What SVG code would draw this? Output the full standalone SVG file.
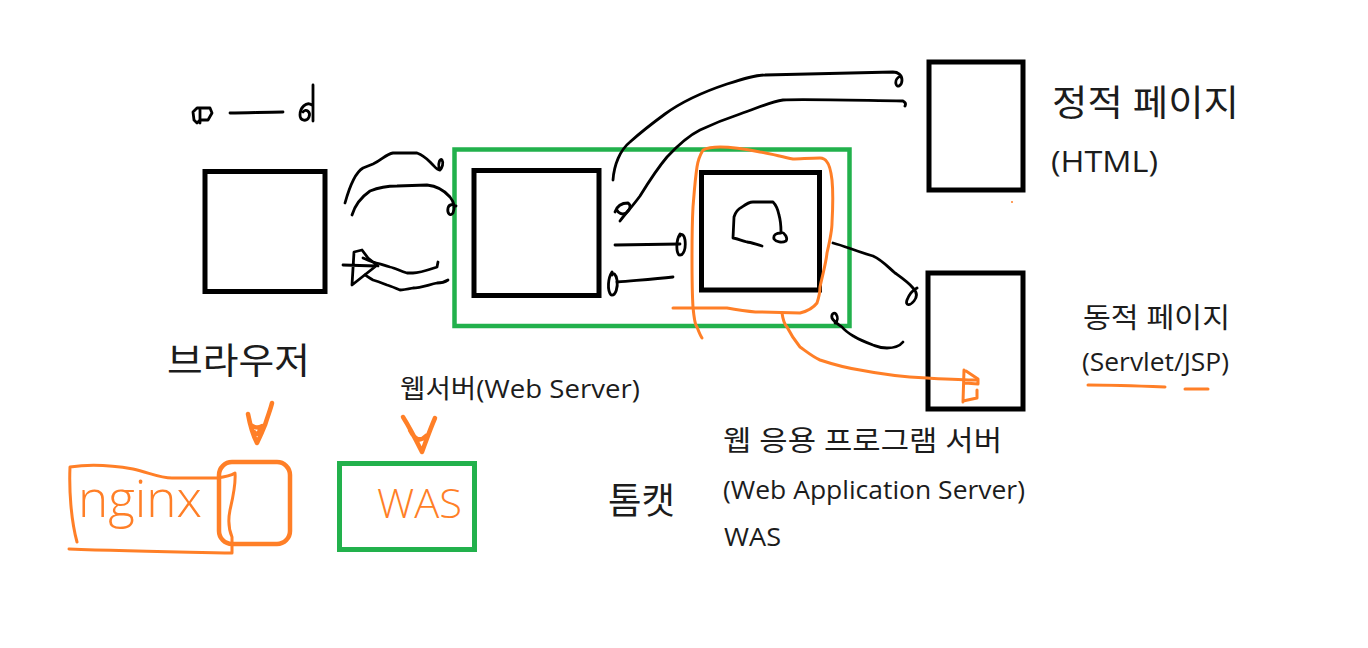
<svg xmlns="http://www.w3.org/2000/svg" width="1368" height="648" viewBox="0 0 1368 648">
<defs>
<style>
.box{fill:none;stroke:#000;stroke-width:5}
.grn{fill:none;stroke:#22B14C;stroke-width:4.5}
.pen{fill:none;stroke:#000;stroke-width:2.8;stroke-linecap:round;stroke-linejoin:round}
.or{fill:none;stroke:#FF7F27;stroke-width:3;stroke-linecap:round;stroke-linejoin:round}
.orw{fill:none;stroke:#FF7F27;stroke-width:4.5;stroke-linecap:round;stroke-linejoin:round}
.t{font-family:"Open Sans","Noto Sans CJK KR",sans-serif;fill:#1c1c1c}
.ht{font-family:"Open Sans","Noto Sans",sans-serif;font-weight:300;fill:#FF7F27}
</style>
</defs>
<rect width="1368" height="648" fill="#fff"/>

<g id="legend-scribble">
<path class="pen" d="M193,112 L197,108 L210,108 L212,113 L208,120 L200,120 L197,123 L194,120 Z M200,110 L200,123"/>
<path class="pen" d="M230,113 C248,113 265,112 283,112"/>
<path class="pen" d="M313,85 L313,121 M312,105 C306,101 300,108 300,115 C300,121 307,122 309,117 C311,112 306,108 303,112"/>
</g>

<g id="browser">
<rect class="box" x="205" y="171.5" width="120" height="120"/>
<text class="t" x="167" y="374" font-size="36" textLength="143" lengthAdjust="spacingAndGlyphs">브라우저</text>
</g>

<g id="webserver-group">
<rect class="grn" x="454.5" y="149.5" width="395" height="176.5"/>
<text class="t" x="400" y="398" font-size="26" textLength="240" lengthAdjust="spacingAndGlyphs">웹서버(Web Server)</text>
</g>

<g id="webserver">
<rect class="box" x="474" y="170.5" width="125" height="125"/>
</g>

<g id="was">
<rect class="box" x="701.5" y="172.5" width="118" height="117.5"/>
<text class="t" x="723" y="451" font-size="28" textLength="279" lengthAdjust="spacingAndGlyphs">웹 응용 프로그램 서버</text>
<text class="t" x="723" y="499" font-size="26" textLength="302" lengthAdjust="spacingAndGlyphs">(Web Application Server)</text>
<text class="t" x="724" y="546" font-size="26" textLength="57" lengthAdjust="spacingAndGlyphs">WAS</text>
<text class="t" x="608" y="514" font-size="36" textLength="67" lengthAdjust="spacingAndGlyphs">톰캣</text>
</g>

<g id="static-page">
<rect class="box" x="929" y="62" width="94" height="128"/>
<text class="t" x="1052" y="116" font-size="36" textLength="187" lengthAdjust="spacingAndGlyphs">정적 페이지</text>
<text class="t" x="1051" y="172" font-size="30" textLength="107" lengthAdjust="spacingAndGlyphs">(HTML)</text>
</g>

<g id="dynamic-page">
<rect class="box" x="928" y="273" width="95" height="136"/>
<text class="t" x="1083" y="328" font-size="28" textLength="147" lengthAdjust="spacingAndGlyphs">동적 페이지</text>
<text class="t" x="1082" y="371" font-size="26" textLength="147" lengthAdjust="spacingAndGlyphs">(Servlet/JSP)</text>
<path class="or" d="M1088,385 C1110,385 1140,386 1165,387 M1185,389 L1208,389"/>
</g>

<g id="nginx">
<rect class="orw" x="219" y="462" width="71" height="82" rx="13"/>
<path class="or" d="M77,542 C71,520 69,490 70,467 C90,464 110,465 133,469 C150,473 160,478 172,478 L217,478 C225,477 232,475 235,473 C236,485 233,497 230,510 C228,520 229,530 232,537 L232,553 C180,552 120,551 69,549"/>
<text class="ht" x="78" y="517" font-size="52" textLength="124" lengthAdjust="spacingAndGlyphs">nginx</text>
<path class="orw" d="M248,414 C250,425 254,437 257,443 C260,437 263,430 265,425 C268,415 271,408 272,403 M251,425 C254,428 259,428 262,426 M254,432 C256,436 259,433 261,429"/>
</g>

<g id="was-box">
<rect class="grn" x="339.5" y="463.5" width="135" height="86" style="stroke-width:5"/>
<text class="ht" x="377" y="518" font-size="40" textLength="85" lengthAdjust="spacingAndGlyphs">WAS</text>
<path class="orw" d="M403,417 C410,428 417,442 422,452 C425,444 429,432 435,418 M410,430 C415,440 420,442 426,436"/>
</g>

<g id="connectors">
<path class="pen" d="M345,203 C350,185 356,172 363,168 L373,164 C382,160 386,154 393,153 L417,153 C425,156 428,160 432,164 C435,167 438,171 440,170 C442,168 444,163 442,160 C440,158 438,163 439,168"/>
<path class="pen" d="M352,215 C355,205 360,198 370,191 C380,187 390,186 397,186 L427,185 C437,186 444,190 450,197 C454,202 455,208 453,213 C450,217 447,213 448,208 C449,204 453,204 456,206"/>
<path class="pen" d="M438,262 L437,267 C428,270 420,273 413,273 L407,273 C400,271 395,268 390,267 C383,265 377,263 373,262 C368,260 365,259 363,258"/>
<path class="pen" d="M448,280 C445,282 440,283 437,283 C428,285 420,288 413,288 C408,289 403,290 400,290 C395,288 391,286 387,285 C382,283 377,281 373,280 C369,278 367,276 365,275"/>
<path class="pen" d="M343,265 L376,266 L352,285 L354,252 L362,250 L368,258 L378,266"/>
<path class="pen" d="M613,180 C614,165 620,150 630,142 C640,133 650,125 665,114 C680,103 700,93 727,84 C745,78 755,75 765,75 C800,74 840,73 893,72 C898,72 902,75 902,80 C902,86 897,88 896,84 C895,80 898,77 901,76"/>
<path class="pen" d="M620,221 C625,214 632,207 640,196 C648,183 656,170 667,157 C680,143 690,135 700,130 C715,123 725,119 740,114 C760,107 770,102 783,100 C800,99 840,100 903,101 C905,102 906,104 905,106"/>
<path class="pen" d="M615,212 C617,206 622,203 628,203 C631,205 631,209 626,213 C622,215 618,213 617,210"/>
<path class="pen" d="M615,245 L680,244"/>
<path class="pen" d="M680,234 C676,240 676,252 679,255 C684,256 686,248 685,240 C684,234 681,233 680,236"/>
<path class="pen" d="M673,277 C655,279 640,280 617,282"/>
<path class="pen" d="M612,272 C608,278 607,290 611,295 C616,296 618,287 617,280 C616,274 613,272 612,275"/>
<path class="pen" d="M762,246 C755,244 750,242 747,242 C740,240 735,238 733,238 L734,217 C736,210 740,208 742,207 C746,204 750,202 753,202 L773,202 C776,205 778,210 779,215 C781,222 781,227 781,232 C785,233 788,238 786,241 C782,243 776,242 774,239 C773,235 776,233 781,233"/>
<path class="pen" d="M833,243 C845,246 855,251 873,256 C882,260 888,267 895,273 C902,278 908,282 913,288 C917,292 918,296 914,301 C910,306 905,306 907,300 C909,295 913,290 917,288"/>
<path class="pen" d="M903,342 C899,347 893,348 887,348 C880,348 876,346 873,345 C865,342 860,340 855,337 C850,334 846,332 842,327 C838,324 834,322 832,318 C831,314 834,312 836,314 C838,317 838,321 835,323"/>
<path class="or" d="M673,308 C700,308 720,308 727,308 C740,310 750,312 760,312 L800,313 C808,311 814,307 817,303 C819,297 820,292 820,287 C823,273 826,263 827,253 C830,240 832,230 832,223 C833,205 833,190 832,180 C831,172 830,165 827,162 C825,159 823,158 820,158 C810,158 800,159 793,159 C782,157 772,154 760,152 C745,149 730,147 720,147 C712,147 707,148 703,150 C700,155 698,160 697,167 C695,180 694,195 693,207 C692,225 692,240 692,257 C692,275 692,292 693,307 C694,318 695,325 697,327 C699,332 700,335 702,338"/>
<path class="or" d="M782,313 C783,320 785,325 787,327 C792,337 796,342 800,347 C807,352 813,357 820,360 C835,365 847,368 860,370 C880,374 905,377 927,378 C945,379 962,380 977,380"/>
<path class="or" d="M964,370 L963,402 M966,371 L978,379 L978,384 L965,383 M963,401 L977,398 L977,390"/>
<circle cx="1012" cy="202" r="1" fill="#FF7F27"/>
</g>
</svg>
